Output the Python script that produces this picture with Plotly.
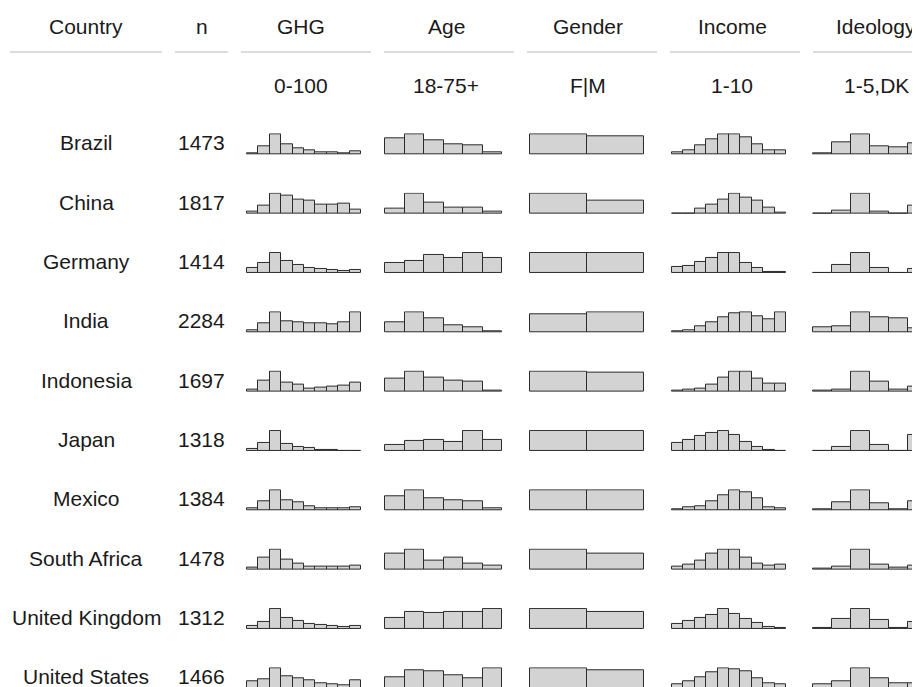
import plotly.graph_objects as go

# survey sample summary: one sparkline histogram per country and variable
countries = ['Brazil', 'China', 'Germany', 'India', 'Indonesia', 'Japan',
             'Mexico', 'South Africa', 'United Kingdom', 'United States']
n_obs = [1473, 1817, 1414, 2284, 1697, 1318, 1384, 1478, 1312, 1466]

headers = ['Country', 'n', 'GHG', 'Age', 'Gender', 'Income', 'Ideology']
ranges = ['', '', '0-100', '18-75+', 'F|M', '1-10', '1-5,DK']

# relative bin heights (tallest bin = 100)
ghg = [
    [5, 39, 100, 48, 31, 20, 10, 8, 4, 15],
    [10, 42, 100, 90, 69, 66, 45, 45, 48, 21],
    [27, 48, 100, 58, 40, 27, 19, 13, 8, 15],
    [8, 43, 100, 57, 50, 43, 43, 38, 48, 98],
    [10, 53, 100, 47, 35, 17, 20, 23, 28, 47],
    [12, 42, 100, 35, 22, 13, 5, 5, 2, 2],
    [8, 43, 100, 48, 40, 18, 8, 10, 8, 17],
    [8, 59, 100, 49, 31, 17, 14, 14, 17, 19],
    [16, 34, 100, 56, 38, 26, 21, 16, 11, 16],
    [33, 43, 100, 62, 49, 38, 26, 21, 16, 38],
]
age = [
    [79, 100, 72, 49, 45, 8],
    [23, 100, 56, 32, 31, 11],
    [52, 58, 92, 74, 100, 77],
    [52, 100, 70, 35, 27, 3],
    [65, 100, 68, 57, 52, 7],
    [30, 52, 57, 47, 100, 57],
    [72, 100, 58, 48, 47, 12],
    [80, 100, 44, 58, 32, 19],
    [56, 87, 79, 87, 85, 100],
    [57, 89, 84, 66, 51, 100],
]
gender = [
    [100, 92], [100, 66], [100, 100], [92, 100], [100, 95],
    [100, 100], [100, 100], [100, 80], [100, 87], [100, 89],
]
income = [
    [10, 20, 46, 75, 100, 98, 85, 51, 21, 20],
    [1, 1, 23, 45, 71, 100, 79, 66, 31, 5],
    [29, 37, 53, 74, 100, 98, 52, 26, 5, 5],
    [7, 12, 30, 50, 75, 95, 100, 80, 65, 100],
    [5, 10, 17, 35, 72, 100, 100, 65, 42, 42],
    [42, 55, 73, 88, 100, 82, 45, 18, 5, 2],
    [5, 13, 18, 45, 75, 100, 88, 58, 17, 12],
    [14, 25, 47, 80, 100, 100, 59, 32, 20, 25],
    [25, 38, 57, 70, 100, 75, 51, 28, 11, 3],
    [20, 33, 57, 79, 100, 93, 87, 49, 23, 21],
]
ideology = [
    [5, 61, 100, 41, 34, 54],
    [2, 13, 100, 11, 2, 42],
    [2, 40, 100, 24, 2, 21],
    [27, 30, 100, 75, 68, 22],
    [7, 10, 100, 50, 12, 23],
    [2, 18, 100, 30, 2, 78],
    [5, 40, 100, 33, 3, 43],
    [7, 14, 100, 25, 8, 20],
    [7, 51, 100, 46, 5, 36],
    [18, 34, 100, 52, 25, 25],
]

# the page puts the plot 8px in from the top-left corner (body margin),
# so figure coordinates are page coordinates minus OFF
OFF = 8
W, H = 920 - OFF, 687 - OFF
FONT = 'Liberation Sans, Arial, sans-serif'
TXT = '#1a1a1a'
row_base0 = 154.3 - OFF   # baseline of first row of histograms
pitch = 59.33             # row spacing
bar_h = 20                # height of tallest bin
pad = 1.0

# (data, left px, right px) for each histogram column, page coords
hist_cols = [(ghg, 247, 361), (age, 385, 502), (gender, 530, 644),
             (income, 672, 786), (ideology, 813, 927)]

fig = go.Figure()
layout_axes = {}
k = 0
for i in range(len(countries)):
    base = row_base0 + i * pitch
    top = base - bar_h
    for data, x0, x1 in hist_cols:
        x0, x1 = x0 - OFF, x1 - OFF
        vals = data[i]
        k += 1
        nb = len(vals)
        bin_px = (x1 - x0) / nb
        vmax = max(vals)
        # visible pixel window (clipped to the figure)
        px_l, px_r = max(x0 - pad, 0), min(x1 + pad, W)
        py_t, py_b = max(top - pad, 0), min(base + pad, H)
        xr = [-0.5 + (px_l - x0) / bin_px, -0.5 + (px_r - x0) / bin_px]
        yr = [vmax * (base - py_b) / bar_h, vmax * (base - py_t) / bar_h]
        sfx = '' if k == 1 else str(k)
        fig.add_trace(go.Bar(
            x=list(range(nb)), y=vals, width=1,
            marker=dict(color='#d3d3d3', line=dict(color='#2b2b2b', width=1)),
            hoverinfo='skip', showlegend=False,
            xaxis='x' + sfx, yaxis='y' + sfx))
        layout_axes['xaxis' + sfx] = dict(domain=[px_l / W, px_r / W], range=xr,
                                          visible=False, fixedrange=True,
                                          anchor='y' + sfx)
        layout_axes['yaxis' + sfx] = dict(domain=[1 - py_b / H, 1 - py_t / H], range=yr,
                                          visible=False, fixedrange=True,
                                          anchor='x' + sfx)


def px(x):
    return (x - OFF) / W


def py(y):
    return 1 - (y - OFF) / H


annotations = []
head_x = [86, 202, 301, 446, 588, 732, 876]
for hx, h, r in zip(head_x, headers, ranges):
    annotations.append(dict(x=px(hx), y=py(26), text=h, showarrow=False,
                            xref='paper', yref='paper', xanchor='center', yanchor='middle'))
    if r:
        annotations.append(dict(x=px(hx), y=py(85), text=r, showarrow=False,
                                xref='paper', yref='paper', xanchor='center', yanchor='middle'))
for i, (c, n) in enumerate(zip(countries, n_obs)):
    yy = py(154.3 + i * pitch - 11.3)
    annotations.append(dict(x=px(86), y=yy, text=c, showarrow=False, xref='paper',
                            yref='paper', xanchor='center', yanchor='middle'))
    annotations.append(dict(x=px(201), y=yy, text=str(n), showarrow=False, xref='paper',
                            yref='paper', xanchor='center', yanchor='middle'))

# header underlines
segs = [(10, 162), (175, 228), (241, 371), (384, 514), (527, 657), (670, 800), (813, 943)]
shapes = [dict(type='line', xref='paper', yref='paper', x0=px(a), x1=min(px(b), 1),
               y0=py(52), y1=py(52), line=dict(color='#dcdcdc', width=2))
          for a, b in segs]

fig.update_layout(
    width=W, height=H,
    margin=dict(l=0, r=0, t=0, b=0),
    paper_bgcolor='white', plot_bgcolor='white',
    bargap=0,
    font=dict(family=FONT, size=21, color=TXT),
    annotations=annotations,
    shapes=shapes,
    **layout_axes
)
fig.write_html("out.html")
